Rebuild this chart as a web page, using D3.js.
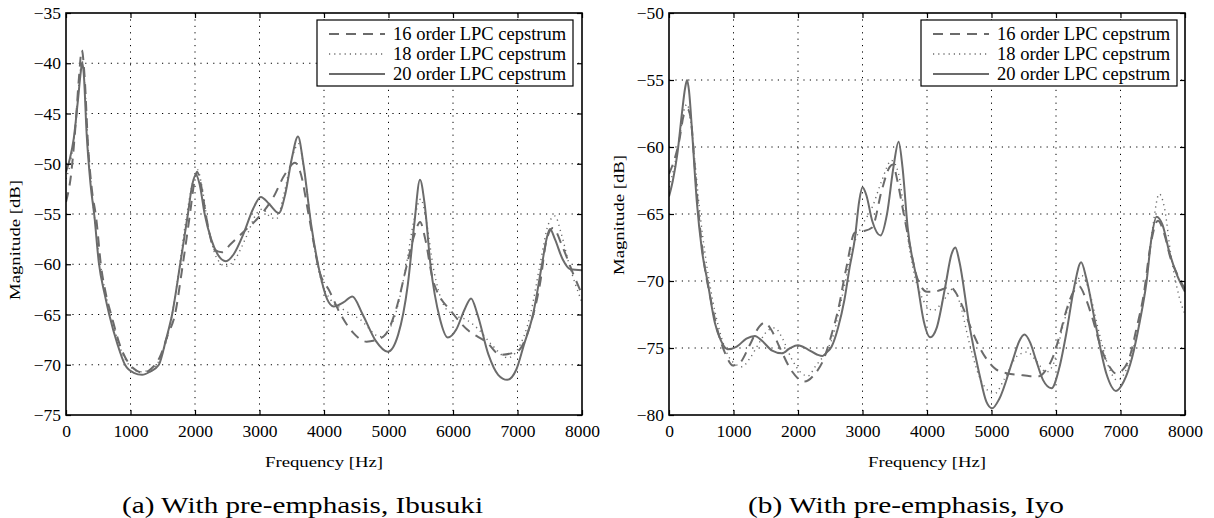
<!DOCTYPE html>
<html>
<head>
<meta charset="utf-8">
<script src="https://cdn.jsdelivr.net/npm/d3@7"></script>
<style>
  body { margin: 0; background: #fff; }
  svg { display: block; font-family: "Liberation Serif", "Times New Roman", serif; }
</style>
</head>
<body>
<svg id="chart" width="1214" height="518"></svg>
<script>
const xTicks = [0, 1000, 2000, 3000, 4000, 5000, 6000, 7000, 8000];
const yTicksA = [-75, -70, -65, -60, -55, -50, -45, -40, -35];
const yTicksB = [-80, -75, -70, -65, -60, -55, -50];
const legendLabels = ["16 order LPC cepstrum", "18 order LPC cepstrum", "20 order LPC cepstrum"];

// (a) Ibusuki — [frequency Hz, magnitude dB]
const a16 = [[0,-53.8],[80,-51],[150,-46],[200,-41.5],[245,-38.7],[290,-41.5],[340,-48],[400,-52.5],[470,-55.5],[540,-60],[620,-63],[700,-65],[850,-68.3],[990,-70],[1100,-70.6],[1200,-70.8],[1320,-70.4],[1450,-69.3],[1580,-67],[1690,-65],[1800,-60.5],[1922,-55],[1990,-51.8],[2030,-50.8],[2090,-52],[2180,-55.5],[2310,-58.6],[2420,-58.8],[2550,-58],[2750,-56.8],[2990,-55.3],[3200,-53.5],[3400,-51],[3550,-49.9],[3640,-51],[3760,-55],[3938,-60.9],[4080,-62.6],[4250,-64.9],[4450,-66.8],[4660,-67.7],[4920,-67.2],[5130,-64.2],[5280,-60.2],[5410,-56.9],[5490,-55.8],[5570,-57.5],[5690,-61.6],[6000,-64.9],[6220,-66.5],[6530,-67.8],[6730,-69],[6990,-68.7],[7190,-66.2],[7350,-61.9],[7450,-57.6],[7550,-56.4],[7700,-58.3],[7860,-60.9],[8000,-63]];
const a18 = [[0,-51.5],[80,-49.5],[150,-46],[200,-42],[250,-39.8],[300,-43],[350,-49],[420,-54],[500,-58.5],[600,-62.5],[700,-65.2],[850,-68.5],[1000,-70.2],[1150,-70.7],[1300,-70.5],[1450,-69.5],[1600,-66.5],[1720,-62],[1850,-56],[1960,-52],[2040,-50.6],[2100,-52],[2200,-56],[2330,-59.3],[2480,-60.2],[2620,-59.5],[2800,-57.2],[2950,-55],[3050,-54.5],[3150,-55.2],[3260,-55.5],[3380,-53],[3500,-49.5],[3610,-48],[3700,-51],[3820,-57],[3950,-61.5],[4100,-63.5],[4300,-64.5],[4560,-65.5],[4870,-67.2],[5050,-66],[5250,-61],[5400,-55.5],[5500,-53.5],[5580,-55.5],[5700,-60.5],[5850,-64],[6000,-65],[6200,-65.5],[6400,-66.5],[6600,-68],[6850,-69.3],[7000,-68.5],[7200,-65],[7350,-60],[7480,-56],[7580,-55.2],[7680,-57],[7800,-60],[8000,-63.8]];
const a20 = [[0,-50.8],[60,-49.5],[120,-47.5],[180,-44],[230,-40.8],[250,-39.9],[275,-41],[320,-47],[380,-52],[440,-55.2],[510,-59.9],[600,-63],[670,-65],[800,-68],[915,-70],[1050,-70.8],[1180,-71],[1300,-70.7],[1440,-70],[1550,-67.5],[1645,-65],[1770,-60],[1890,-55],[1960,-52],[2016,-51.1],[2070,-52],[2150,-55],[2250,-57.5],[2350,-59],[2480,-59.7],[2600,-59],[2750,-57],[2900,-54.5],[3020,-53.3],[3150,-54],[3300,-54.9],[3400,-53],[3500,-49.5],[3597,-47.3],[3680,-50],[3800,-56],[3940,-61],[4050,-63.5],[4150,-64.2],[4300,-63.8],[4440,-63.2],[4600,-65],[4800,-67.6],[4990,-68.7],[5150,-67],[5300,-62],[5400,-56],[5488,-51.6],[5560,-54],[5650,-60],[5800,-65.5],[5920,-67.3],[6050,-66.5],[6180,-64.5],[6280,-63.4],[6380,-65],[6550,-69],[6700,-71],[6840,-71.5],[6980,-70.5],[7100,-68],[7240,-65],[7380,-60],[7450,-57.5],[7504,-56.5],[7580,-57.5],[7700,-59.5],[7820,-60.5],[8000,-60.6]];

// (b) Iyo
const b16 = [[0,-62],[80,-61],[160,-59.5],[230,-57.6],[290,-57.2],[340,-58],[400,-61.5],[460,-65],[540,-68.5],[640,-71.2],[760,-73.8],[880,-75.5],[990,-76.3],[1100,-76.1],[1250,-74.8],[1400,-73.4],[1480,-73.1],[1580,-73.6],[1720,-75],[1900,-76.7],[2100,-77.5],[2250,-77],[2410,-75.7],[2520,-74],[2620,-72.2],[2750,-69],[2880,-66.4],[3000,-66.3],[3150,-66],[3300,-63.2],[3420,-61.5],[3470,-61.3],[3540,-62.5],[3620,-64.5],[3720,-67],[3850,-69.8],[4000,-70.8],[4100,-70.8],[4250,-70.6],[4350,-70.4],[4450,-70.9],[4550,-71.9],[4680,-73.5],[4810,-74.9],[4950,-76],[5070,-76.6],[5250,-76.9],[5430,-77],[5600,-77.1],[5740,-77.1],[5850,-76.6],[5950,-75.7],[6060,-74],[6160,-72.2],[6260,-70.9],[6360,-70.4],[6460,-71.3],[6560,-72.7],[6700,-75],[6830,-76.4],[6930,-76.9],[7040,-76.6],[7140,-75.7],[7250,-73.5],[7360,-71],[7460,-67.5],[7580,-65.5],[7680,-66.5],[7770,-68.2],[7880,-69.5],[8000,-70.6]];
const b18 = [[0,-63],[80,-61.5],[160,-59.5],[230,-57.3],[280,-56.8],[330,-57.8],[400,-61],[470,-64.5],[560,-68],[680,-71.5],[800,-74],[920,-75.6],[1030,-76.2],[1130,-76.4],[1250,-75.8],[1400,-74.6],[1530,-73.7],[1640,-73.5],[1760,-74.3],[1900,-75.8],[2060,-76.9],[2150,-77.1],[2280,-76.3],[2420,-75.4],[2550,-74],[2700,-70.8],[2850,-67.5],[3000,-65.8],[3150,-64.5],[3300,-62.5],[3450,-61],[3560,-62],[3650,-65],[3780,-69],[3950,-71.5],[4100,-72.2],[4250,-71.5],[4400,-70.6],[4500,-71.5],[4650,-74.5],[4800,-77],[4950,-78.2],[5050,-78.4],[5200,-77.3],[5400,-75.6],[5550,-75.3],[5700,-76],[5850,-76.8],[5950,-76.3],[6100,-73.5],[6250,-71],[6400,-69.6],[6500,-70.5],[6650,-73.5],[6800,-76.2],[6950,-77.4],[7100,-76.5],[7250,-74],[7400,-70],[7500,-66],[7600,-63.5],[7680,-64.5],[7780,-68],[7900,-71],[8000,-72.5]];
const b20 = [[0,-63.7],[60,-62.5],[130,-60.5],[200,-57.5],[250,-55.6],[280,-55],[310,-55.8],[360,-59],[430,-64],[510,-67.7],[600,-70.1],[710,-73.1],[800,-74.4],[910,-75.1],[1050,-74.9],[1200,-74.3],[1330,-74.1],[1450,-74.5],[1600,-75.2],[1750,-75.4],[1880,-75],[2000,-74.8],[2150,-75.1],[2300,-75.5],[2380,-75.6],[2450,-75.3],[2520,-74.9],[2620,-73.5],[2720,-71.4],[2800,-69],[2880,-66.9],[2950,-64],[3000,-63],[3060,-63.6],[3150,-65.5],[3280,-66.6],[3380,-65],[3480,-61.5],[3560,-59.6],[3620,-61.5],[3700,-66],[3850,-70.1],[3950,-73],[4050,-74.2],[4150,-73.5],[4280,-70.5],[4380,-68],[4440,-67.5],[4500,-68.5],[4660,-73.4],[4810,-76.9],[4920,-79],[5010,-79.5],[5120,-78.8],[5330,-75.9],[5430,-74.5],[5510,-74],[5600,-74.6],[5690,-75.9],[5800,-77.4],[5930,-78],[6050,-76.5],[6160,-73.9],[6280,-70.5],[6390,-68.6],[6470,-69.8],[6620,-73.4],[6780,-76.9],[6930,-78.2],[7050,-77.5],[7180,-75.7],[7300,-73],[7400,-70.2],[7480,-66.8],[7560,-65.2],[7650,-65.8],[7760,-67.9],[7880,-69.6],[8000,-70.8]];

const curveColor = "#6b6b6b";
const styles = [
  { width: 2, dash: "10,7" },
  { width: 1.4, dash: "1.2,4" },
  { width: 2, dash: null },
];

const svg = d3.select("#chart");

function drawPanel(p) {
  const w = 516, h = 402;
  const g = svg.append("g").attr("transform", `translate(${p.left},13)`);
  const x = d3.scaleLinear().domain([0, 8000]).range([0, w]);
  const y = d3.scaleLinear().domain(p.yDomain).range([h, 0]);

  g.append("rect").attr("width", w).attr("height", h).attr("fill", "#fff");

  // grid
  g.append("g")
    .selectAll("line")
    .data(xTicks.slice(1, -1))
    .join("line")
    .attr("x1", (d) => x(d)).attr("x2", (d) => x(d))
    .attr("y1", 0).attr("y2", h)
    .attr("stroke", "#000").attr("stroke-width", 1)
    .attr("stroke-dasharray", "1.2,5.2");
  g.append("g")
    .selectAll("line")
    .data(p.yTicks.slice(1, -1))
    .join("line")
    .attr("y1", (d) => y(d)).attr("y2", (d) => y(d))
    .attr("x1", 0).attr("x2", w)
    .attr("stroke", "#000").attr("stroke-width", 1)
    .attr("stroke-dasharray", "1.2,5.2");

  // curves
  const clipId = "clip-" + p.id;
  g.append("clipPath").attr("id", clipId)
    .append("rect").attr("width", w).attr("height", h);
  const line = d3.line()
    .x((d) => x(d[0]))
    .y((d) => y(d[1]))
    .curve(d3.curveMonotoneX);
  p.series.forEach((s, i) => {
    g.append("path")
      .datum(s)
      .attr("clip-path", `url(#${clipId})`)
      .attr("fill", "none")
      .attr("stroke", curveColor)
      .attr("stroke-width", styles[i].width)
      .attr("stroke-dasharray", styles[i].dash)
      .attr("d", line);
  });

  // axes, ticks pointing inwards
  const fmt = d3.format("d");
  const bottom = g.append("g").attr("transform", `translate(0,${h})`)
    .call(d3.axisBottom(x).tickValues(xTicks).tickFormat(fmt).tickSize(-5).tickPadding(10));
  const left = g.append("g")
    .call(d3.axisLeft(y).tickValues(p.yTicks).tickFormat(fmt).tickSize(-5).tickPadding(5));
  const top = g.append("g")
    .call(d3.axisTop(x).tickValues(xTicks).tickFormat("").tickSize(-5));
  const right = g.append("g").attr("transform", `translate(${w},0)`)
    .call(d3.axisRight(y).tickValues(p.yTicks).tickFormat("").tickSize(-5));
  [bottom, left, top, right].forEach((a) => {
    a.select(".domain").remove();
    a.selectAll(".tick line").attr("stroke", "#000").attr("stroke-width", 1.2);
    a.selectAll("text")
      .attr("fill", "#000")
      .style("font-family", "Liberation Serif, serif")
      .style("font-size", "17.5px");
  });

  g.append("rect").attr("width", w).attr("height", h)
    .attr("fill", "none").attr("stroke", "#000").attr("stroke-width", 1.6);

  // axis labels
  g.append("text")
    .attr("x", w / 2).attr("y", 454)
    .attr("text-anchor", "middle")
    .attr("font-size", "14px")
    .attr("textLength", 118).attr("lengthAdjust", "spacingAndGlyphs")
    .text("Frequency [Hz]");
  g.append("text")
    .attr("transform", `translate(${p.yLabelX},${p.yLabelY}) rotate(-90)`)
    .attr("text-anchor", "middle")
    .attr("font-size", "14px")
    .attr("textLength", 120).attr("lengthAdjust", "spacingAndGlyphs")
    .text("Magnitude [dB]");

  // legend
  const lg = g.append("g").attr("transform", `translate(${p.legendX},7)`);
  lg.append("rect").attr("width", 256).attr("height", 66)
    .attr("fill", "#fff").attr("stroke", "#000").attr("stroke-width", 1.2);
  legendLabels.forEach((lab, i) => {
    const cy = 14 + i * 20;
    lg.append("line")
      .attr("x1", 12).attr("x2", 68).attr("y1", cy).attr("y2", cy)
      .attr("stroke", curveColor)
      .attr("stroke-width", styles[i].width)
      .attr("stroke-dasharray", styles[i].dash);
    lg.append("text")
      .attr("x", 76).attr("y", cy + 6)
      .attr("font-size", "18.5px")
      .attr("fill", "#000")
      .text(lab);
  });

  // caption
  svg.append("text")
    .attr("x", p.captionX).attr("y", 513)
    .attr("font-size", "24px")
    .attr("textLength", p.captionLen).attr("lengthAdjust", "spacingAndGlyphs")
    .text(p.caption);
}

drawPanel({
  id: "a", left: 66, yDomain: [-75, -35], yTicks: yTicksA,
  series: [a16, a18, a20], legendX: 251,
  yLabelX: -46, yLabelY: 227,
  caption: "(a) With pre-emphasis, Ibusuki", captionX: 122, captionLen: 361,
});
drawPanel({
  id: "b", left: 669, yDomain: [-80, -50], yTicks: yTicksB,
  series: [b16, b18, b20], legendX: 252,
  yLabelX: -45, yLabelY: 202,
  caption: "(b) With pre-emphasis, Iyo", captionX: 748, captionLen: 316,
});
</script>
</body>
</html>
